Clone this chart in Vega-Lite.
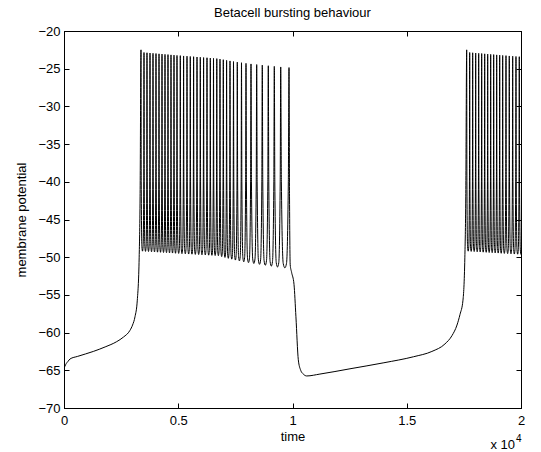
{
  "$schema": "https://vega.github.io/schema/vega-lite/v6.json",
  "width": 457,
  "height": 377,
  "autosize": {"type": "none"},
  "padding": {"left": 64, "top": 31, "right": 20, "bottom": 44},
  "background": "white",
  "title": {"text": "Betacell bursting behaviour", "font": "Liberation Sans", "fontSize": 13, "fontWeight": "normal", "color": "black", "anchor": "middle", "offset": 5},
  "datasets": {
    "trace": [
      {"t":0,"v":-64.75},{"t":40,"v":-64.45},{"t":100,"v":-64.1},{"t":180,"v":-63.8},{"t":263,"v":-63.5},{"t":600,"v":-63.15},{"t":1282,"v":-62.5},{"t":1800,"v":-61.9},{"t":2306,"v":-61.2},{"t":2600,"v":-60.6},{"t":2888,"v":-59.7},{"t":3000,"v":-59.0},{"t":3107,"v":-57.9},{"t":3208,"v":-55.7},{"t":3290,"v":-50},{"t":3330,"v":-42},
      {"t":3370,"v":-22.5},{"t":3380,"v":-40},{"t":3409,"v":-48.6},{"t":3436,"v":-49.2},{"t":3462,"v":-48.6},{"t":3491,"v":-40},
      {"t":3501,"v":-22.85},{"t":3511,"v":-40},{"t":3540,"v":-48.63},{"t":3567,"v":-49.23},{"t":3593,"v":-48.63},{"t":3622,"v":-40},
      {"t":3632,"v":-22.89},{"t":3643,"v":-40},{"t":3672,"v":-48.65},{"t":3698,"v":-49.25},{"t":3724,"v":-48.65},{"t":3753,"v":-40},
      {"t":3764,"v":-22.92},{"t":3774,"v":-40},{"t":3803,"v":-48.68},{"t":3830,"v":-49.28},{"t":3856,"v":-48.68},{"t":3885,"v":-40},
      {"t":3895,"v":-22.96},{"t":3905,"v":-40},{"t":3934,"v":-48.7},{"t":3961,"v":-49.3},{"t":3987,"v":-48.7},{"t":4016,"v":-40},
      {"t":4026,"v":-22.99},{"t":4037,"v":-40},{"t":4066,"v":-48.73},{"t":4092,"v":-49.33},{"t":4118,"v":-48.73},{"t":4147,"v":-40},
      {"t":4158,"v":-23.03},{"t":4168,"v":-40},{"t":4197,"v":-48.75},{"t":4224,"v":-49.35},{"t":4250,"v":-48.75},{"t":4279,"v":-40},
      {"t":4289,"v":-23.06},{"t":4299,"v":-40},{"t":4328,"v":-48.78},{"t":4355,"v":-49.38},{"t":4381,"v":-48.78},{"t":4410,"v":-40},
      {"t":4420,"v":-23.1},{"t":4430,"v":-40},{"t":4459,"v":-48.8},{"t":4486,"v":-49.4},{"t":4512,"v":-48.8},{"t":4541,"v":-40},
      {"t":4551,"v":-23.13},{"t":4562,"v":-40},{"t":4591,"v":-48.83},{"t":4617,"v":-49.43},{"t":4643,"v":-48.83},{"t":4672,"v":-40},
      {"t":4683,"v":-23.17},{"t":4693,"v":-40},{"t":4722,"v":-48.85},{"t":4749,"v":-49.45},{"t":4775,"v":-48.85},{"t":4804,"v":-40},
      {"t":4814,"v":-23.2},{"t":4824,"v":-40},{"t":4853,"v":-48.88},{"t":4880,"v":-49.48},{"t":4906,"v":-48.88},{"t":4935,"v":-40},
      {"t":4945,"v":-23.24},{"t":4957,"v":-40},{"t":4989,"v":-48.9},{"t":5018,"v":-49.5},{"t":5047,"v":-48.9},{"t":5078,"v":-40},
      {"t":5090,"v":-23.27},{"t":5102,"v":-40},{"t":5133,"v":-48.93},{"t":5162,"v":-49.53},{"t":5191,"v":-48.93},{"t":5222,"v":-40},
      {"t":5234,"v":-23.31},{"t":5246,"v":-40},{"t":5279,"v":-48.95},{"t":5309,"v":-49.55},{"t":5338,"v":-48.95},{"t":5371,"v":-40},
      {"t":5383,"v":-23.34},{"t":5395,"v":-40},{"t":5426,"v":-48.98},{"t":5455,"v":-49.58},{"t":5484,"v":-48.98},{"t":5515,"v":-40},
      {"t":5527,"v":-23.38},{"t":5539,"v":-40},{"t":5571,"v":-49.0},{"t":5600,"v":-49.6},{"t":5629,"v":-49.0},{"t":5660,"v":-40},
      {"t":5672,"v":-23.41},{"t":5684,"v":-40},{"t":5717,"v":-49.03},{"t":5747,"v":-49.63},{"t":5776,"v":-49.03},{"t":5809,"v":-40},
      {"t":5821,"v":-23.45},{"t":5833,"v":-40},{"t":5864,"v":-49.05},{"t":5893,"v":-49.65},{"t":5922,"v":-49.05},{"t":5953,"v":-40},
      {"t":5965,"v":-23.48},{"t":5977,"v":-40},{"t":6008,"v":-49.08},{"t":6037,"v":-49.68},{"t":6066,"v":-49.08},{"t":6097,"v":-40},
      {"t":6109,"v":-23.52},{"t":6121,"v":-40},{"t":6154,"v":-49.1},{"t":6184,"v":-49.7},{"t":6213,"v":-49.1},{"t":6246,"v":-40},
      {"t":6258,"v":-23.55},{"t":6270,"v":-40},{"t":6302,"v":-49.13},{"t":6331,"v":-49.73},{"t":6360,"v":-49.13},{"t":6391,"v":-40},
      {"t":6403,"v":-23.59},{"t":6414,"v":-40},{"t":6445,"v":-49.15},{"t":6473,"v":-49.75},{"t":6501,"v":-49.15},{"t":6532,"v":-40},
      {"t":6543,"v":-23.62},{"t":6555,"v":-40},{"t":6586,"v":-49.18},{"t":6615,"v":-49.78},{"t":6644,"v":-49.18},{"t":6675,"v":-40},
      {"t":6687,"v":-23.66},{"t":6698,"v":-40},{"t":6729,"v":-49.2},{"t":6757,"v":-49.8},{"t":6785,"v":-49.2},{"t":6816,"v":-40},
      {"t":6827,"v":-23.73},{"t":6839,"v":-40},{"t":6871,"v":-49.32},{"t":6900,"v":-49.92},{"t":6929,"v":-49.32},{"t":6960,"v":-40},
      {"t":6972,"v":-23.81},{"t":6984,"v":-40},{"t":7015,"v":-49.43},{"t":7044,"v":-50.03},{"t":7073,"v":-49.43},{"t":7104,"v":-40},
      {"t":7116,"v":-23.89},{"t":7128,"v":-40},{"t":7161,"v":-49.55},{"t":7191,"v":-50.15},{"t":7220,"v":-49.55},{"t":7253,"v":-40},
      {"t":7265,"v":-23.97},{"t":7277,"v":-40},{"t":7311,"v":-49.66},{"t":7342,"v":-50.26},{"t":7372,"v":-49.66},{"t":7406,"v":-40},
      {"t":7418,"v":-24.05},{"t":7431,"v":-40},{"t":7468,"v":-49.78},{"t":7501,"v":-50.38},{"t":7534,"v":-49.78},{"t":7571,"v":-40},
      {"t":7584,"v":-24.13},{"t":7599,"v":-40},{"t":7639,"v":-49.89},{"t":7676,"v":-50.49},{"t":7713,"v":-49.89},{"t":7753,"v":-40},
      {"t":7768,"v":-24.21},{"t":7784,"v":-40},{"t":7827,"v":-50.01},{"t":7867,"v":-50.61},{"t":7906,"v":-50.01},{"t":7949,"v":-40},
      {"t":7965,"v":-24.29},{"t":7983,"v":-40},{"t":8031,"v":-50.12},{"t":8075,"v":-50.72},{"t":8118,"v":-50.12},{"t":8166,"v":-40},
      {"t":8184,"v":-24.37},{"t":8204,"v":-40},{"t":8259,"v":-50.24},{"t":8309,"v":-50.84},{"t":8358,"v":-50.24},{"t":8413,"v":-40},
      {"t":8433,"v":-24.45},{"t":8453,"v":-40},{"t":8507,"v":-50.35},{"t":8556,"v":-50.95},{"t":8605,"v":-50.35},{"t":8658,"v":-40},
      {"t":8678,"v":-24.53},{"t":8699,"v":-40},{"t":8757,"v":-50.47},{"t":8810,"v":-51.07},{"t":8862,"v":-50.47},{"t":8920,"v":-40},
      {"t":8941,"v":-24.61},{"t":8962,"v":-40},{"t":9020,"v":-50.58},{"t":9073,"v":-51.18},{"t":9125,"v":-50.58},{"t":9183,"v":-40},
      {"t":9204,"v":-24.69},{"t":9226,"v":-40},{"t":9288,"v":-50.7},{"t":9344,"v":-51.3},{"t":9400,"v":-50.7},{"t":9462,"v":-40},
      {"t":9484,"v":-24.77},{"t":9513,"v":-40},{"t":9593,"v":-50.81},{"t":9666,"v":-51.41},{"t":9738,"v":-50.81},{"t":9818,"v":-40},
      {"t":9847,"v":-24.85},
      {"t":9870,"v":-42},{"t":9900,"v":-51.0},{"t":9960,"v":-52.0},{"t":10066,"v":-53.6},{"t":10150,"v":-57.9},{"t":10254,"v":-63.6},{"t":10359,"v":-65.0},{"t":10473,"v":-65.5},{"t":10621,"v":-65.75},{"t":11200,"v":-65.5},{"t":12516,"v":-64.8},{"t":14000,"v":-64.0},{"t":15300,"v":-63.2},{"t":16100,"v":-62.5},{"t":16673,"v":-61.5},{"t":16980,"v":-60.4},{"t":17199,"v":-59.0},{"t":17330,"v":-57.6},{"t":17461,"v":-55.7},{"t":17543,"v":-50},{"t":17583,"v":-42},
      {"t":17623,"v":-22.5},{"t":17633,"v":-40},{"t":17662,"v":-48.6},{"t":17689,"v":-49.2},{"t":17715,"v":-48.6},{"t":17744,"v":-40},
      {"t":17754,"v":-22.85},{"t":17764,"v":-40},{"t":17793,"v":-48.63},{"t":17820,"v":-49.23},{"t":17846,"v":-48.63},{"t":17875,"v":-40},
      {"t":17885,"v":-22.89},{"t":17896,"v":-40},{"t":17925,"v":-48.65},{"t":17951,"v":-49.25},{"t":17977,"v":-48.65},{"t":18006,"v":-40},
      {"t":18017,"v":-22.92},{"t":18027,"v":-40},{"t":18056,"v":-48.68},{"t":18083,"v":-49.28},{"t":18109,"v":-48.68},{"t":18138,"v":-40},
      {"t":18148,"v":-22.96},{"t":18158,"v":-40},{"t":18187,"v":-48.7},{"t":18214,"v":-49.3},{"t":18240,"v":-48.7},{"t":18269,"v":-40},
      {"t":18279,"v":-22.99},{"t":18290,"v":-40},{"t":18319,"v":-48.73},{"t":18345,"v":-49.33},{"t":18371,"v":-48.73},{"t":18400,"v":-40},
      {"t":18411,"v":-23.03},{"t":18421,"v":-40},{"t":18450,"v":-48.75},{"t":18477,"v":-49.35},{"t":18503,"v":-48.75},{"t":18532,"v":-40},
      {"t":18542,"v":-23.06},{"t":18552,"v":-40},{"t":18581,"v":-48.78},{"t":18608,"v":-49.38},{"t":18634,"v":-48.78},{"t":18663,"v":-40},
      {"t":18673,"v":-23.1},{"t":18683,"v":-40},{"t":18712,"v":-48.8},{"t":18739,"v":-49.4},{"t":18765,"v":-48.8},{"t":18794,"v":-40},
      {"t":18804,"v":-23.13},{"t":18815,"v":-40},{"t":18844,"v":-48.83},{"t":18870,"v":-49.43},{"t":18896,"v":-48.83},{"t":18925,"v":-40},
      {"t":18936,"v":-23.17},{"t":18946,"v":-40},{"t":18975,"v":-48.85},{"t":19002,"v":-49.45},{"t":19028,"v":-48.85},{"t":19057,"v":-40},
      {"t":19067,"v":-23.2},{"t":19077,"v":-40},{"t":19106,"v":-48.88},{"t":19133,"v":-49.48},{"t":19159,"v":-48.88},{"t":19188,"v":-40},
      {"t":19198,"v":-23.24},{"t":19210,"v":-40},{"t":19242,"v":-48.9},{"t":19271,"v":-49.5},{"t":19300,"v":-48.9},{"t":19331,"v":-40},
      {"t":19343,"v":-23.27},{"t":19355,"v":-40},{"t":19386,"v":-48.93},{"t":19415,"v":-49.53},{"t":19444,"v":-48.93},{"t":19475,"v":-40},
      {"t":19487,"v":-23.31},{"t":19499,"v":-40},{"t":19532,"v":-48.95},{"t":19562,"v":-49.55},{"t":19591,"v":-48.95},{"t":19624,"v":-40},
      {"t":19636,"v":-23.34},{"t":19648,"v":-40},{"t":19679,"v":-48.98},{"t":19708,"v":-49.58},{"t":19737,"v":-48.98},{"t":19768,"v":-40},
      {"t":19780,"v":-23.38},{"t":19792,"v":-40},{"t":19824,"v":-49.0},{"t":19853,"v":-49.6},{"t":19882,"v":-49.0},{"t":19913,"v":-40},
      {"t":19925,"v":-23.41},{"t":19937,"v":-40},{"t":19970,"v":-49.03},{"t":20000,"v":-49.63},{"t":20029,"v":-49.03},{"t":20062,"v":-40},
      {"t":20074,"v":-23.45}
    ],
    "notes": [
      {"t": 20000, "v": -70, "label": "x 10"},
      {"t": 20000, "v": -70, "label": "4"}
    ]
  },
  "layer": [
    {
      "data": {"name": "trace"},
      "mark": {"type": "line", "interpolate": "monotone", "color": "black", "strokeWidth": 1, "clip": true},
      "encoding": {
        "x": {"field": "t", "type": "quantitative", "scale": {"domain": [0, 20000], "nice": false, "zero": false},
          "axis": {"orient": "bottom", "title": "time", "values": [0, 5000, 10000, 15000, 20000], "labelExpr": "'' + (datum.value / 10000)", "labelPadding": 11.5, "titlePadding": 3, "labelFlush": false, "labelOverlap": false, "labelBound": false}},
        "y": {"field": "v", "type": "quantitative", "scale": {"domain": [-70, -20], "nice": false, "zero": false},
          "axis": {"orient": "left", "title": "membrane potential", "values": [-70, -65, -60, -55, -50, -45, -40, -35, -30, -25, -20], "labelPadding": 9, "titlePadding": 9, "labelFlush": false, "labelOverlap": false, "labelBound": false}}
      }
    },
    {
      "data": {"name": "notes"},
      "transform": [{"filter": "datum.label == 'x 10'"}],
      "mark": {"type": "text", "align": "right", "baseline": "alphabetic", "dx": -6, "dy": 41, "font": "Liberation Sans", "fontSize": 13, "color": "black", "clip": false},
      "encoding": {
        "x": {"field": "t", "type": "quantitative", "scale": {"domain": [0, 20000], "nice": false, "zero": false},
          "axis": {"orient": "top", "title": null, "labels": false, "values": [0, 5000, 10000, 15000, 20000]}},
        "y": {"field": "v", "type": "quantitative", "scale": {"domain": [-70, -20], "nice": false, "zero": false},
          "axis": {"orient": "right", "title": null, "labels": false, "values": [-70, -65, -60, -55, -50, -45, -40, -35, -30, -25, -20]}},
        "text": {"field": "label"}
      }
    },
    {
      "data": {"name": "notes"},
      "transform": [{"filter": "datum.label == '4'"}],
      "mark": {"type": "text", "align": "left", "baseline": "alphabetic", "dx": -5, "dy": 34, "font": "Liberation Sans", "fontSize": 10, "color": "black", "clip": false},
      "encoding": {
        "x": {"field": "t", "type": "quantitative", "axis": null},
        "y": {"field": "v", "type": "quantitative", "axis": null},
        "text": {"field": "label"}
      }
    }
  ],
  "resolve": {"axis": {"x": "independent", "y": "independent"}},
  "config": {
    "font": "Liberation Sans",
    "view": {"stroke": "black", "strokeWidth": 1},
    "axis": {"grid": false, "domainColor": "black", "domainWidth": 1, "tickColor": "black", "tickWidth": 1, "tickSize": -5, "labelColor": "black", "titleColor": "black", "labelFont": "Liberation Sans", "titleFont": "Liberation Sans", "labelFontSize": 13, "titleFontSize": 13, "titleFontWeight": "normal"}
  }
}
